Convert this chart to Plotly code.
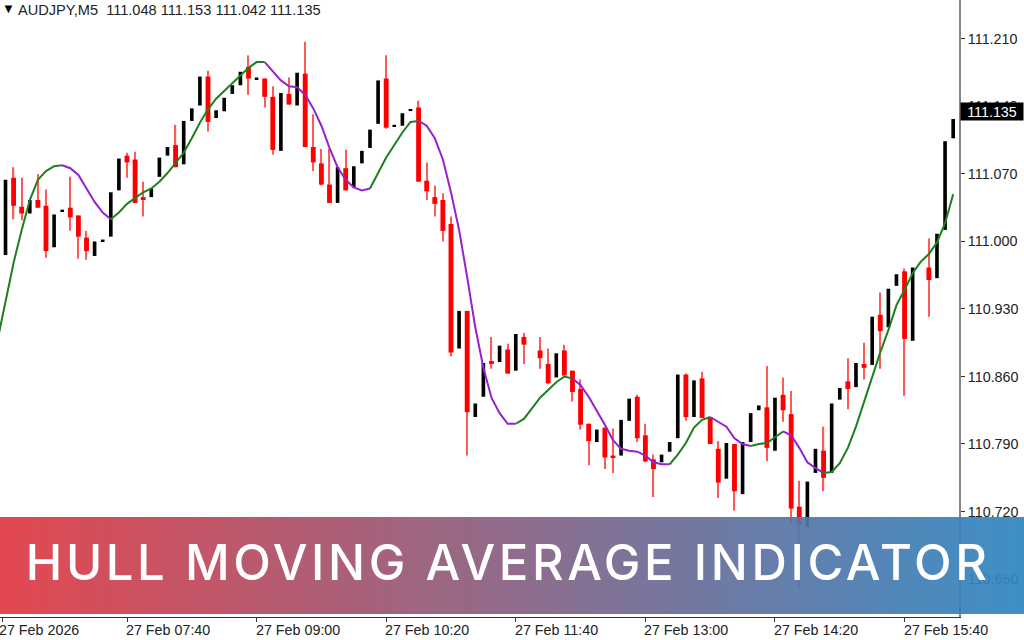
import plotly.graph_objects as go

# bar number -1 only carries the hull line into the left edge
bars = list(range(118))
N = None

opens = [110.986, 111.066, 111.036, 111.029, 111.043, 111.037, 110.994, 111.031, 111.035, 111.027,
         111.004, 110.985, 111.000, 111.005, 111.053, 111.089, 111.085, 111.046, 111.046, 111.067,
         111.089, 111.100, 111.080, 111.125, 111.141, 111.171, 111.128, 111.135, 111.153, 111.162,
         111.181, 111.168, 111.169, 111.150, 111.094, 111.153, 111.141, 111.174, 111.098, 111.081,
         111.059, 111.040, 111.076, 111.056, 111.081, 111.097, 111.122, 111.169, 111.119, 111.120,
         111.136, 111.139, 111.063, 111.046, 111.043, 111.018, 110.889, 110.928, 110.818, 110.839,
         110.876, 110.875, 110.888, 110.866, 110.901, N, 110.887, 110.873, 110.859, 110.887,
         110.866, 110.847, 110.811, 110.792, 110.807, 110.778, 110.778, 110.814, 110.839, 110.799,
         110.774, 110.771, 110.782, 110.796, 110.862, 110.818, 110.858, 110.818, 110.785, 110.754,
         110.790, 110.738, 110.792, 110.825, 110.828, 110.783, 110.841, 110.821, 110.725, 110.704,
         110.760, 110.783, 110.760, 110.836, 110.855, 110.849, 110.873, 110.872, 110.924, 110.911,
         110.954, 110.969, 110.897, N, 110.973, 110.962, 111.012, 111.107]
closes = [111.064, 111.037, 111.029, 111.043, 111.035, 110.990, 111.028, 111.033, 111.025, 111.005,
          110.990, 111.000, 111.002, 111.051, 111.086, 111.082, 111.040, 111.044, 111.055, 111.087,
          111.098, 111.077, 111.125, 111.138, 111.171, 111.124, 111.136, 111.149, 111.162, 111.176,
          111.169, 111.170, 111.150, 111.095, 111.154, 111.142, 111.175, 111.098, 111.082, 111.059,
          111.040, 111.077, 111.053, 111.078, 111.094, 111.116, 111.167, 111.118, 111.121, 111.133,
          111.137, 111.062, 111.052, 111.039, 111.011, 110.885, 110.928, 110.823, 110.832, 110.874,
          110.873, 110.892, 110.863, 110.904, 110.893, N, 110.879, 110.853, 110.884, 110.861,
          110.844, 110.810, 110.793, 110.805, 110.776, 110.776, 110.815, 110.837, 110.796, 110.772,
          110.764, 110.779, 110.792, 110.862, 110.818, 110.856, 110.817, 110.790, 110.750, 110.791,
          110.741, 110.792, 110.822, 110.830, 110.786, 110.838, 110.825, 110.723, 110.706, 110.751,
          110.785, 110.755, 110.832, 110.848, 110.847, 110.874, 110.869, 110.922, 110.907, 110.951,
          110.966, 110.899, 110.973, N, 110.960, 111.008, 111.104, 111.127]
highs = [111.064, 111.077, 111.066, 111.043, 111.070, 111.054, 111.028, 111.033, 111.067, 111.027,
         111.011, 111.000, 111.002, 111.051, 111.086, 111.092, 111.093, 111.062, 111.055, 111.087,
         111.098, 111.121, 111.125, 111.138, 111.171, 111.177, 111.136, 111.149, 111.162, 111.176,
         111.193, 111.170, 111.169, 111.161, 111.154, 111.170, 111.175, 111.207, 111.132, 111.096,
         111.096, 111.077, 111.095, 111.078, 111.094, 111.116, 111.167, 111.193, 111.121, 111.133,
         111.137, 111.146, 111.082, 111.058, 111.050, 111.026, 110.928, 110.928, 110.832, 110.874,
         110.901, 110.892, 110.894, 110.904, 110.905, N, 110.901, 110.889, 110.884, 110.893,
         110.866, 110.857, 110.811, 110.805, 110.807, 110.806, 110.815, 110.837, 110.841, 110.811,
         110.779, 110.779, 110.792, 110.862, 110.863, 110.856, 110.865, 110.818, 110.793, 110.791,
         110.790, 110.792, 110.822, 110.830, 110.871, 110.838, 110.859, 110.845, 110.752, 110.751,
         110.785, 110.808, 110.832, 110.848, 110.879, 110.874, 110.895, 110.922, 110.947, 110.951,
         110.966, 110.972, 110.973, N, 111.003, 111.008, 111.104, 111.127]
lows = [110.986, 111.023, 111.022, 111.029, 111.035, 110.983, 110.994, 111.031, 111.011, 110.982,
        110.981, 110.985, 111.000, 111.005, 111.053, 111.066, 111.040, 111.026, 111.046, 111.067,
        111.089, 111.077, 111.080, 111.125, 111.141, 111.114, 111.128, 111.135, 111.153, 111.162,
        111.152, 111.168, 111.139, 111.090, 111.094, 111.142, 111.141, 111.098, 111.073, 111.058,
        111.040, 111.040, 111.053, 111.056, 111.081, 111.097, 111.122, 111.117, 111.119, 111.120,
        111.136, 111.062, 111.043, 111.026, 111.000, 110.881, 110.889, 110.778, 110.818, 110.839,
        110.868, 110.875, 110.863, 110.866, 110.873, N, 110.868, 110.852, 110.859, 110.861,
        110.834, 110.805, 110.768, 110.792, 110.764, 110.760, 110.778, 110.814, 110.792, 110.771,
        110.735, 110.771, 110.782, 110.796, 110.814, 110.818, 110.817, 110.790, 110.734, 110.754,
        110.721, 110.738, 110.792, 110.825, 110.772, 110.783, 110.813, 110.708, 110.642, 110.704,
        110.760, 110.741, 110.760, 110.836, 110.826, 110.849, 110.857, 110.872, 110.868, 110.911,
        110.954, 110.840, 110.897, N, 110.922, 110.962, 111.012, 111.107]

# hull value per bar, first one is bar -1
hull = [110.897, 110.939, 110.978, 111.012, 111.043, 111.064, 111.073, 111.078, 111.079, 111.076,
        111.069, 111.055, 111.041, 111.030, 111.023, 111.030, 111.039, 111.045, 111.051, 111.055,
        111.062, 111.071, 111.081, 111.092, 111.107, 111.123, 111.137, 111.148, 111.156, 111.164,
        111.172, 111.180, 111.186, 111.186, 111.177, 111.167, 111.161, 111.160, 111.152, 111.138,
        111.120, 111.097, 111.077, 111.064, 111.056, 111.053, 111.055, 111.071, 111.087, 111.100,
        111.113, 111.124, 111.125, 111.120, 111.107, 111.085, 111.051, 111.012, 110.963, 110.911,
        110.869, 110.838, 110.822, 110.811, 110.811, 110.816, 110.827, 110.838, 110.846, 110.854,
        110.860, 110.858, 110.851, 110.839, 110.825, 110.810, 110.794, 110.785, 110.783, 110.782,
        110.778, 110.771, 110.769, 110.769, 110.779, 110.791, 110.807, 110.815, 110.818, 110.813,
        110.808, 110.796, 110.790, 110.788, 110.790, 110.791, 110.797, 110.803, 110.799, 110.786,
        110.771, 110.765, 110.760, 110.761, 110.770, 110.786, 110.808, 110.834, 110.858, 110.885,
        110.908, 110.934, 110.950, 110.967, 110.979, 110.987, 110.999, 111.019, 111.049]
# bars where the hull changes colour, it starts green
hull_turns = [7, 13, 32, 45, 51, 63, 70, 82, 87, 92, 96, 101]

y_ticks = [110.650, 110.720, 110.790, 110.860, 110.930, 111.000, 111.070, 111.140, 111.210]
x_tick_bars = [-0.43, 15, 31, 47, 63, 79, 95, 111]
x_tick_labels = ['27 Feb 2026', '27 Feb 07:40', '27 Feb 09:00', '27 Feb 10:20',
                 '27 Feb 11:40', '27 Feb 13:00', '27 Feb 14:20', '27 Feb 15:40']

last_price = 111.135
header = 'AUDJPY,M5\u00a0\u00a0111.048 111.153 111.042 111.135'
banner_text = 'HULL MOVING AVERAGE INDICATOR'
banner_left = (224, 58, 67)
banner_right = (47, 135, 194)

W, H = 1024, 640
TEXT = dict(family='Liberation Sans', size=14.3, color='#222222')

fig = go.Figure()

up = [i for i in bars if opens[i] is not None and closes[i] > opens[i]]
down = [i for i in bars if opens[i] is not None and closes[i] <= opens[i]]

# wicks only show on the red candles in this chart
fig.add_bar(x=down, y=[highs[i] - lows[i] for i in down], base=[lows[i] for i in down],
            width=0.15, marker=dict(color='#ff5a5a', line_width=0))
fig.add_bar(x=down, y=[opens[i] - closes[i] for i in down], base=[closes[i] for i in down],
            width=0.6, marker=dict(color='#ff0000', line_width=0))
fig.add_bar(x=up, y=[closes[i] - opens[i] for i in up], base=[opens[i] for i in up],
            width=0.45, marker=dict(color='#000000', line_width=0))

hull_x = [-1] + bars
edges = [-1] + hull_turns + [117]
for k in range(len(edges) - 1):
    a = edges[k] + 1
    b = edges[k + 1] + 1
    fig.add_scatter(x=hull_x[a:b + 1], y=hull[a:b + 1], mode='lines',
                    line=dict(color='#9a1fd0' if k % 2 else '#1f7f1f', width=2))

fig.update_layout(
    width=W, height=H,
    margin=dict(l=0, r=0, t=0, b=0),
    paper_bgcolor='white', plot_bgcolor='white',
    barmode='overlay', showlegend=False,
    font=TEXT,
)
fig.update_xaxes(domain=[0, 959 / W], range=[-0.679, 117.72], tickvals=x_tick_bars,
                 ticktext=[''] * 8, ticks='outside', ticklen=4, tickcolor='#333333',
                 showgrid=False, showline=True, linecolor='#333333', linewidth=1,
                 zeroline=False)
fig.update_yaxes(domain=[23 / H, 1], range=[110.6106, 111.2504], side='right', tickvals=y_ticks,
                 tickformat='.3f', ticks='outside', ticklen=4, tickcolor='#333333',
                 showgrid=False, showline=True, linecolor='#858585', linewidth=2,
                 zeroline=False)

for n, (bar, label) in enumerate(zip(x_tick_bars, x_tick_labels)):
    fig.add_annotation(x=bar, y=1 - 630 / H, xref='x', yref='paper', text=label, showarrow=False,
                       xanchor='left', yanchor='middle', xshift=-5 if n == 0 else -3, font=TEXT)

fig.add_annotation(x=16 / W, y=1 - 10 / H, xref='paper', yref='paper', text=header,
                   showarrow=False, xanchor='left', yanchor='middle',
                   font=dict(family='Liberation Sans', size=14.6, color='#222222'))
fig.add_annotation(x=0, y=1 - 9 / H, xref='paper', yref='paper', text='▼',
                   showarrow=False, xanchor='left', yanchor='middle',
                   font=dict(size=13, color='#000000'))

fig.add_annotation(x=1, y=last_price, xref='paper', yref='y', text=str(last_price),
                   showarrow=False, xanchor='right', bgcolor='#000000', width=62, height=17,
                   borderpad=0, font=dict(family='Liberation Sans', size=14.3, color='#ffffff'))

# gradient band, plotly shapes have no gradient so lay thin strips over everything
strips = 256
for s in range(strips):
    t = s / (strips - 1)
    r, g, b = [round(banner_left[c] + (banner_right[c] - banner_left[c]) * t) for c in range(3)]
    fig.add_shape(type='rect', xref='paper', yref='paper', layer='above',
                  x0=s / strips, x1=(s + 1) / strips, y0=1 - 614 / H, y1=1 - 517 / H,
                  line_width=0, fillcolor=f'rgba({r},{g},{b},0.93)')

fig.add_annotation(x=508 / W, y=1 - 562 / H, xref='paper', yref='paper', text=banner_text,
                   showarrow=False, yanchor='middle',
                   font=dict(family='Inter', size=49, color='white', weight=500))

# the page keeps a default body margin otherwise and the chart would sit 8px in,
# and plotly has no letter spacing for the wide banner text
script = """
document.body.style.margin = '0';
document.querySelectorAll('.annotation-text').forEach(function (t) {
    if (t.textContent.indexOf('HULL') === 0) { t.style.letterSpacing = '3.6px'; }
});
"""
fig.write_html('out.html', post_script=script, config=dict(displayModeBar=False))
